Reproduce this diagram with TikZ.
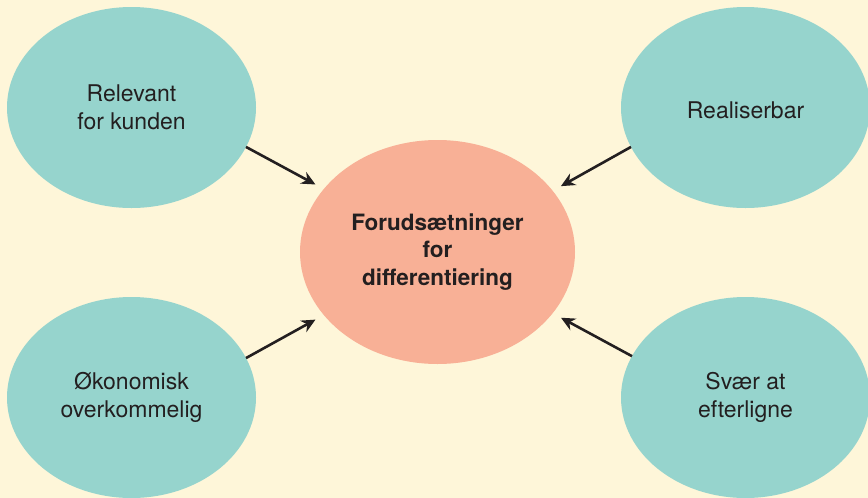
\documentclass[tikz,border=0pt]{standalone}
\usepackage{fontspec}
\setmainfont{TeX Gyre Heros}
\usetikzlibrary{shapes.geometric,arrows.meta}
\definecolor{bgcol}{HTML}{FEF6D9}
\definecolor{teal}{HTML}{96D4CD}
\definecolor{salmon}{HTML}{F8B096}
\definecolor{ink}{HTML}{231F20}
\tikzset{
  outer/.style={ellipse, fill=teal, draw=none, inner sep=0pt, outer sep=0pt,
    minimum width=249pt, minimum height=201pt, align=center,
    text=ink, font=\fontsize{23}{28}\selectfont,
    execute at begin node={\rule{0pt}{23pt}}},
  core/.style={ellipse, fill=salmon, draw=none, inner sep=0pt, outer sep=0pt,
    minimum width=275pt, minimum height=224pt, align=center,
    text=ink, font=\fontsize{22.5}{27.5}\selectfont\bfseries,
    execute at begin node={\rule{0pt}{22pt}}},
  arr/.style={draw=ink, line width=2.6pt, -{Stealth[length=14pt,width=13pt]}, shorten >=9.5pt}
}
\begin{document}
\begin{tikzpicture}[x=1pt,y=-1pt]
\fill[bgcol] (0,0) rectangle (868,498);
\useasboundingbox (0,0) rectangle (868,498);
\clip (0,0) rectangle (868,498);
\node[outer] (tl) at (131.5,107.5) {Relevant\\for kunden};
\node[outer] (tr) at (745.5,107.5) {Realiserbar};
\node[outer] (bl) at (131.5,397.5) {Økonomisk\\overkommelig};
\node[outer] (br) at (745.5,397.5) {Svær at\\efterligne};
\node[core] (c) at (437.5,252) {Forudsætninger\\for\\differentiering};
\draw[arr] (tl.-19.6) -- (c.151.25);
\draw[arr] (tr.199.6) -- (c.28.75);
\draw[arr] (bl.19.6) -- (c.-151.25);
\draw[arr] (br.160.4) -- (c.-28.75);
\end{tikzpicture}
\end{document}
